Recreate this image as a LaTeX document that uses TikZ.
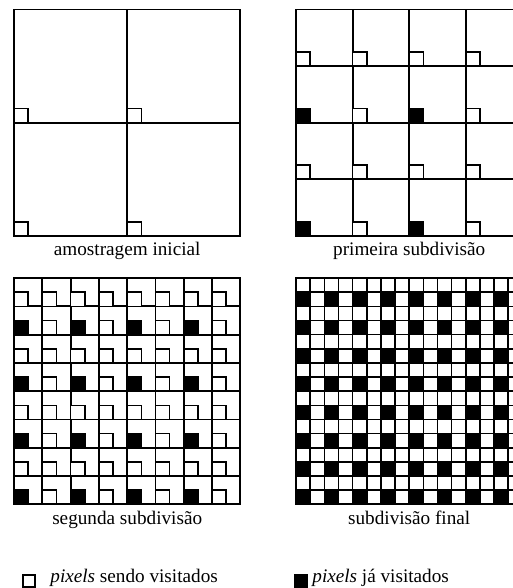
\documentclass[tikz,border=0pt]{standalone}
\usepackage{fontspec}
\setmainfont{Liberation Serif}
\begin{document}
\begin{tikzpicture}[x=0.5pt,y=-0.5pt,
  grade/.style={line width=0.95pt},
  pixel/.style={line width=0.8pt,fill=white},
  visitado/.style={line width=0.8pt,fill=black},
  rotulo/.style={anchor=base,inner sep=0pt,font=\fontsize{9.6}{11}\selectfont}]
  \clip (0,0) rectangle (513,588);
  \foreach \ox/\oy/\n/\txt in {14/9.5/2/amostragem inicial,296/9.5/4/primeira subdivisão,
      14/278/8/segunda subdivisão,296/278/16/subdivisão final}{
    \pgfmathsetmacro\c{226.4/\n}
    \pgfmathtruncatemacro\m{\n-1}
    \foreach \k in {1,...,\m}{
      \draw[grade] (\ox+\k*\c,\oy) -- ++(0,226.4);
      \draw[grade] (\ox,\oy+\k*\c) -- ++(226.4,0);
    }
    \foreach \i in {0,...,\m}
      \foreach \j in {0,...,\m}{
        \pgfmathtruncatemacro\blk{(\n>2)*(mod(\i,2)==0)*(mod(\j,2)==0)}
        \ifnum\blk=1
          \draw[visitado] (\ox+\i*\c,\oy+226.4-\j*\c) rectangle ++(14.15,-14.15);
        \else
          \draw[pixel] (\ox+\i*\c,\oy+226.4-\j*\c) rectangle ++(14.15,-14.15);
        \fi
      }
    \draw[grade] (\ox,\oy) rectangle ++(226.4,226.4);
    \node[rotulo] (rot\n) at (\ox+113.2,\oy+246) {\txt};
  }
  \draw[pixel] (23,575) rectangle (35,587);
  \node[rotulo,anchor=base west] (leg-branco) at (50,582) {\textit{pixels} sendo visitados};
  \draw[visitado] (295,575) rectangle (307,587);
  \node[rotulo,anchor=base west] (leg-preto) at (312,582) {\textit{pixels} já visitados};
\end{tikzpicture}
\end{document}
